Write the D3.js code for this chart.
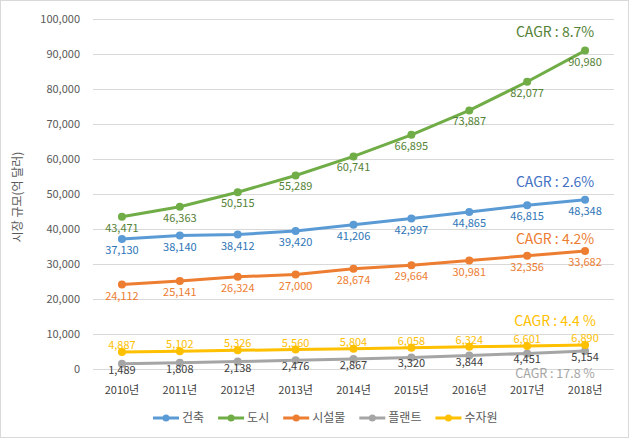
<!DOCTYPE html>
<html><head><meta charset="utf-8">
<script src="https://cdn.jsdelivr.net/npm/d3@7"></script>
<style>
body{margin:0;background:#fff;}
text{font-family:"Noto Sans CJK KR","Noto Sans",sans-serif;}
</style></head>
<body>
<svg id="c" width="632" height="441"></svg>
<script>
const years = ["2010년","2011년","2012년","2013년","2014년","2015년","2016년","2017년","2018년"];
const yTicks = [0,10000,20000,30000,40000,50000,60000,70000,80000,90000,100000];
const seriesNames = ["건축","도시","시설물","플랜트","수자원"];
const arch = [37130,38140,38412,39420,41206,42997,44865,46815,48348];
const city = [43471,46363,50515,55289,60741,66895,73887,82077,90980];
const facility = [24112,25141,26324,27000,28674,29664,30981,32356,33682];
const plant = [1489,1808,2138,2476,2867,3320,3844,4451,5154];
const water = [4887,5102,5326,5560,5804,6058,6324,6601,6890];
const cagrLabels = ["CAGR : 2.6%","CAGR : 8.7%","CAGR : 4.2%","CAGR : 17.8 %","CAGR : 4.4 %"];
const yTitle = "시장 규모(억 달러)";

const colors = ["#5B9BD5","#70AD47","#ED7D31","#A5A5A5","#FFC000"];
const labelColors = ["#2E75B6","#548235","#ED7D31","#404040","#FFC000"];
const cagrColors = ["#4472C4","#548235","#ED7D31","#A5A5A5","#FFC000"];
const labelDy = [15,15,15,10,-3];

const series = [arch,city,facility,plant,water].map((v,i)=>({name:seriesNames[i],values:v,color:colors[i],lc:labelColors[i],dy:labelDy[i],cagr:cagrLabels[i],cc:cagrColors[i]}));

const svg = d3.select("#c");
svg.append("rect").attr("x",0.5).attr("y",0.5).attr("width",628).attr("height",437).attr("fill","#fff").attr("stroke","#d9d9d9");

const x = d3.scaleBand().domain(years).range([93,614]);
const y = d3.scaleLinear().domain([0,100000]).range([369,19]);
const fmt = d3.format(",");

// grid
svg.append("g").selectAll("line").data(yTicks).join("line")
  .attr("x1",93).attr("x2",614).attr("y1",d=>y(d)+0.5).attr("y2",d=>y(d)+0.5)
  .attr("stroke","#d9d9d9").attr("stroke-width",1);

// y axis
const ya = svg.append("g").attr("transform","translate(80,0)")
  .call(d3.axisLeft(y).tickValues(yTicks).tickFormat(fmt).tickSize(0).tickPadding(0));
ya.select(".domain").remove();
ya.selectAll("text").attr("fill","#595959").attr("font-size",11).style("font-family",'"Noto Sans CJK KR","Noto Sans",sans-serif');

// x axis
const xa = svg.append("g").attr("transform","translate(0,385)")
  .call(d3.axisBottom(x).tickSize(0).tickPadding(0));
xa.select(".domain").remove();
xa.selectAll("text").attr("fill","#404040").attr("font-size",11).attr("dy","0.8em").style("font-family",'"Noto Sans CJK KR","Noto Sans",sans-serif');

// y title
svg.append("text").attr("transform","translate(22,197) rotate(-90)").attr("text-anchor","middle")
  .attr("font-size",12).attr("fill","#595959").text(yTitle);

const cx = d => x(d)+x.bandwidth()/2;
const line = d3.line().x((d,i)=>cx(years[i])).y(d=>y(d));

series.forEach(s=>{
  const g = svg.append("g");
  g.append("path").attr("d",line(s.values)).attr("fill","none").attr("stroke",s.color).attr("stroke-width",3).attr("stroke-linejoin","round");
  g.selectAll("circle").data(s.values).join("circle")
    .attr("cx",(d,i)=>cx(years[i])).attr("cy",d=>y(d)).attr("r",4).attr("fill",s.color);
  g.selectAll("text").data(s.values).join("text")
    .attr("x",(d,i)=>cx(years[i])).attr("y",d=>y(d)+s.dy)
    .attr("text-anchor","middle").attr("font-size",11).attr("fill",s.lc).text(d=>fmt(d));
});

// CAGR annotations anchored to the last point
const lastX = cx(years[years.length-1]);
const cagrOff = [-13,-14,-7,27,-19];
const cagrSize = [14,14,14,12.5,14];
series.forEach((s,i)=>{
  svg.append("text").attr("x",lastX-30).attr("y",y(s.values[s.values.length-1])+cagrOff[i])
    .attr("text-anchor","middle").attr("font-size",cagrSize[i]).attr("fill",s.cc).text(s.cagr);
});

// legend
const lg = svg.append("g").attr("transform","translate(153,418)");
let lx = 0;
series.forEach(s=>{
  const it = lg.append("g").attr("transform",`translate(${lx},0)`);
  it.append("line").attr("x1",0).attr("x2",26).attr("y1",0).attr("y2",0).attr("stroke",s.color).attr("stroke-width",3);
  it.append("circle").attr("cx",13).attr("cy",0).attr("r",3.5).attr("fill",s.color);
  const t = it.append("text").attr("x",29).attr("y",0).attr("dy","0.35em").attr("font-size",12).attr("fill","#595959").text(s.name);
  lx += 29 + t.node().getComputedTextLength() + 14;
});
</script>
</body></html>
